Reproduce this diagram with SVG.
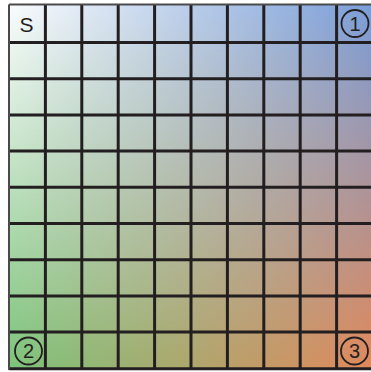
<svg xmlns="http://www.w3.org/2000/svg" width="371" height="372" viewBox="0 0 371 372">
  <style>
    .grid line { stroke: #231f20; stroke-width: 3; }
    .edge { stroke: #4a4a4a; stroke-width: 2; }
    .lbl { font-family: "Liberation Sans", Arial, sans-serif; font-size: 21px; fill: #231f20; text-anchor: middle; }
    .circ { fill: none; stroke: #231f20; stroke-width: 1.8; }
    .num { font-family: "Liberation Sans", Arial, sans-serif; font-size: 20px; fill: #231f20; text-anchor: middle; }
  </style>
  <defs>
    <linearGradient id="bottomRow" x1="0" y1="0" x2="1" y2="0">
      <stop offset="0" stop-color="#7cc47b"/>
      <stop offset="1" stop-color="#e2895c"/>
    </linearGradient>
    <linearGradient id="topRow" x1="0" y1="0" x2="1" y2="0">
      <stop offset="0" stop-color="#fafcfe"/>
      <stop offset="1" stop-color="#789dd8"/>
    </linearGradient>
    <linearGradient id="fade" x1="0" y1="0" x2="0" y2="1">
      <stop offset="0" stop-color="#fff"/>
      <stop offset="1" stop-color="#000"/>
    </linearGradient>
    <mask id="vmask" maskUnits="userSpaceOnUse" x="0" y="0" width="371" height="372">
      <rect x="9" y="5" width="364" height="363" fill="url(#fade)"/>
    </mask>
  </defs>
  <g id="background">
    <rect x="0" y="0" width="371" height="372" fill="#ffffff"/>
    <rect x="9" y="5" width="364" height="363" fill="url(#bottomRow)"/>
    <rect x="9" y="5" width="364" height="363" fill="url(#topRow)" mask="url(#vmask)"/>
  </g>
  <g id="grid" class="grid">
    <line x1="45.4" y1="5" x2="45.4" y2="370"/>
    <line x1="81.8" y1="5" x2="81.8" y2="370"/>
    <line x1="118.2" y1="5" x2="118.2" y2="370"/>
    <line x1="154.6" y1="5" x2="154.6" y2="370"/>
    <line x1="191" y1="5" x2="191" y2="370"/>
    <line x1="227.4" y1="5" x2="227.4" y2="370"/>
    <line x1="263.8" y1="5" x2="263.8" y2="370"/>
    <line x1="300.2" y1="5" x2="300.2" y2="370"/>
    <line x1="336.6" y1="5" x2="336.6" y2="370"/>
    <line x1="9" y1="42.5" x2="371" y2="42.5"/>
    <line x1="9" y1="78.7" x2="371" y2="78.7"/>
    <line x1="9" y1="114.9" x2="371" y2="114.9"/>
    <line x1="9" y1="151.1" x2="371" y2="151.1"/>
    <line x1="9" y1="187.3" x2="371" y2="187.3"/>
    <line x1="9" y1="223.5" x2="371" y2="223.5"/>
    <line x1="9" y1="259.7" x2="371" y2="259.7"/>
    <line x1="9" y1="295.9" x2="371" y2="295.9"/>
    <line x1="9" y1="332.1" x2="371" y2="332.1"/>
    <line x1="9" y1="368.8" x2="371" y2="368.8"/>
  </g>
  <g id="border">
    <line class="edge" x1="9" y1="4.5" x2="371" y2="4.5"/>
    <line class="edge" x1="9" y1="4.5" x2="9" y2="370"/>
  </g>
  <g id="label-S">
    <text class="lbl" x="26.5" y="31.5">S</text>
  </g>
  <g id="label-1">
    <circle class="circ" cx="355" cy="23.5" r="13.5"/>
    <text class="num" x="355" y="30.8">1</text>
  </g>
  <g id="label-2">
    <circle class="circ" cx="28.5" cy="351" r="13.5"/>
    <text class="num" x="28.5" y="358.3">2</text>
  </g>
  <g id="label-3">
    <circle class="circ" cx="354.5" cy="351" r="13.5"/>
    <text class="num" x="354.5" y="358.3">3</text>
  </g>
</svg>
